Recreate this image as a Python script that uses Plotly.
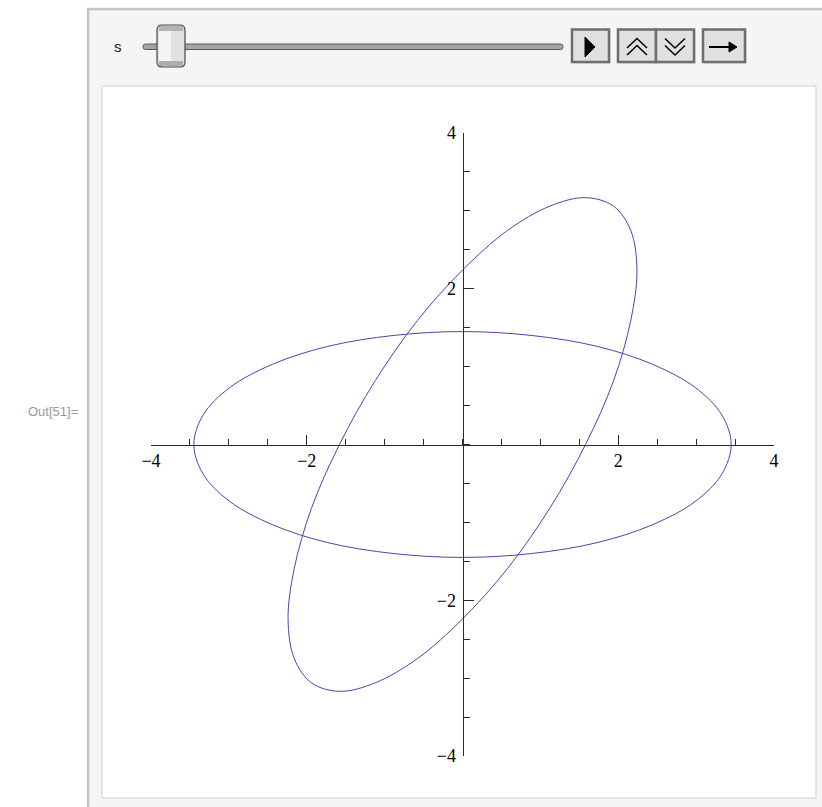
import plotly.graph_objects as go

# ellipse 1 (wide one), starting at the top
ell1_x = [0.0, -0.89, -1.73, -2.44, -2.99, -3.33, -3.45, -3.33, -2.99, -2.44, -1.73, -0.89,
          0.0, 0.89, 1.73, 2.44, 2.99, 3.33, 3.45, 3.33, 2.99, 2.44, 1.73, 0.89]
ell1_y = [1.45, 1.40, 1.26, 1.03, 0.73, 0.38, 0.0, -0.38, -0.73, -1.03, -1.26, -1.40,
          -1.45, -1.40, -1.26, -1.03, -0.73, -0.38, 0.0, 0.38, 0.73, 1.03, 1.26, 1.40]

# ellipse 2 (tilted one), starting at its left x-axis crossing
ell2_x = [-1.58, -1.94, -2.16, -2.24, -2.16, -1.94, -1.58, -1.12, -0.58, 0.0, 0.58, 1.12,
          1.58, 1.94, 2.16, 2.24, 2.16, 1.94, 1.58, 1.12, 0.58, 0.0, -0.58, -1.12]
ell2_y = [0.0, -0.82, -1.59, -2.24, -2.75, -3.06, -3.17, -3.06, -2.75, -2.24, -1.59, -0.82,
          0.0, 0.82, 1.59, 2.24, 2.75, 3.06, 3.17, 3.06, 2.75, 2.24, 1.59, 0.82]

tick_vals = [-4, -2, 2, 4]
tick_text = ["\u22124", "\u22122", "2", "4"]

W, H = 822, 807
L, R, T, B = 151, 48, 133, 51
PW, PH = W - L - R, H - T - B
CURVE = "rgb(70,70,172)"
AXIS = "#2a2a2a"


def px(x):
    return (x - L) / PW


def py(y):
    return (H - B - y) / PH


def rect(x0, y0, x1, y1, fill, line=None, lw=0, layer="below"):
    return dict(type="rect", xref="paper", yref="paper", x0=px(x0), x1=px(x1),
                y0=py(y1), y1=py(y0), fillcolor=fill, layer=layer,
                line=dict(color=line or fill, width=lw))


def path(pts, fill=None, line="black", lw=1.5, closed=False):
    d = "M " + " L ".join(f"{px(a):.5f},{py(b):.5f}" for a, b in pts)
    if closed:
        d += " Z"
    s = dict(type="path", xref="paper", yref="paper", path=d, layer="above",
             line=dict(color=line, width=lw))
    if fill:
        s["fillcolor"] = fill
    return s


def rounded(x0, y0, x1, y1, r, fill, line, lw):
    d = (f"M {px(x0 + r)},{py(y0)} L {px(x1 - r)},{py(y0)} "
         f"Q {px(x1)},{py(y0)} {px(x1)},{py(y0 + r)} L {px(x1)},{py(y1 - r)} "
         f"Q {px(x1)},{py(y1)} {px(x1 - r)},{py(y1)} L {px(x0 + r)},{py(y1)} "
         f"Q {px(x0)},{py(y1)} {px(x0)},{py(y1 - r)} L {px(x0)},{py(y0 + r)} "
         f"Q {px(x0)},{py(y0)} {px(x0 + r)},{py(y0)} Z")
    return dict(type="path", xref="paper", yref="paper", path=d, layer="above",
                fillcolor=fill, line=dict(color=line, width=lw))


fig = go.Figure()
# close the loops by wrapping one point, spline does the rest
for xs, ys in [(ell1_x, ell1_y), (ell2_x, ell2_y)]:
    fig.add_trace(go.Scatter(x=xs + xs[:1], y=ys + ys[:1], mode="lines",
                             line=dict(color=CURVE, width=1, shape="spline", smoothing=1.0),
                             hoverinfo="skip", showlegend=False))

shapes = [
    # manipulate panel and plot frame
    rect(88, 9, 840, 830, "#f5f5f5", "#c4c4c4", 2.5),
    rect(102, 86, 816, 798, "white", "#cfcfcf", 1),
    # slider track
    rounded(143, 44, 563, 49.5, 2.5, "#a4a4a4", "#5a5a5a", 1),
    # slider knob
    rounded(157, 25, 185, 67, 5, "#dedede", "#4a4a4a", 1.2),
    rect(159, 26, 183, 31, "#b4b4b4", layer="above"),
    rect(159, 61, 183, 66, "#adadad", layer="above"),
    rect(159, 31, 171, 61, "#f4f4f4", layer="above"),
    rect(171, 31, 183, 61, "#e2e2e2", layer="above"),
]
# buttons: a light shadow then the box
for x0, x1 in [(572, 609), (618, 656), (656, 694), (703, 745)]:
    shapes.append(rect(x0 + 1.5, 30.5, x1 + 1.5, 63.5, "#d2d2d2", layer="above"))
    shapes.append(rect(x0, 29.5, x1, 62, "#e0e0e0", "#6e6e6e", 2.5, layer="above"))

shapes += [
    path([(585, 37), (585, 57), (595, 47)], fill="black", lw=1, closed=True),
    path([(627, 48), (637, 38.5), (647, 48)]),
    path([(627, 55), (637, 45.5), (647, 55)]),
    path([(665, 38.5), (675, 48), (685, 38.5)]),
    path([(665, 45.5), (675, 55), (685, 45.5)]),
    path([(709, 47), (731, 47)], lw=2),
    path([(729, 42), (737, 47), (729, 52)], fill="black", lw=1, closed=True),
]

annotations = [
    dict(text="s", x=px(118), y=py(46), xref="paper", yref="paper", showarrow=False,
         font=dict(family="Liberation Sans", size=15, color="#222"),
         xanchor="center", yanchor="middle"),
    dict(text="Out[51]=", x=px(80), y=py(411), xref="paper", yref="paper", showarrow=False,
         font=dict(family="Liberation Sans", size=13, color="#9a9a9a"),
         xanchor="right", yanchor="middle"),
]

tickfont = dict(family="Liberation Serif", size=18, color="black")
axis_style = dict(range=[-4, 4], anchor="free", position=0.5, showgrid=False, zeroline=False,
                  showline=True, linecolor=AXIS, linewidth=1,
                  tickvals=tick_vals, ticktext=tick_text, ticks="inside", ticklen=10,
                  tickcolor=AXIS, tickwidth=1, tickfont=tickfont,
                  minor=dict(tick0=0, dtick=0.5, ticks="inside", ticklen=6,
                             tickcolor=AXIS, tickwidth=1, showgrid=False))
fig.update_layout(
    width=W, height=H,
    margin=dict(l=L, r=R, t=T, b=B),
    paper_bgcolor="white",
    plot_bgcolor="rgba(0,0,0,0)",
    shapes=shapes,
    annotations=annotations,
    xaxis=axis_style,
    yaxis=dict(axis_style, ticklabelstandoff=3),
)

# the page body has an 8px default margin, drop it so the figure sits at 0,0
fig.write_html("out.html", config={"displayModeBar": False},
               post_script="document.body.style.margin='0px';")
